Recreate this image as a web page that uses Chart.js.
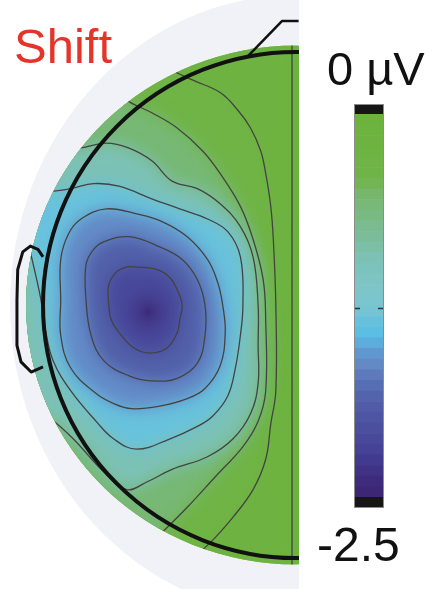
<!DOCTYPE html>
<html>
<head>
<meta charset="utf-8">
<script src="https://cdn.jsdelivr.net/npm/chart.js@4/dist/chart.umd.min.js"></script>
<style>
  html, body { margin: 0; padding: 0; background: #fff; }
  canvas { display: block; }
</style>
</head>
<body>
<canvas id="topoChart" width="435" height="589"></canvas>
<script>
// Head coordinates: origin at the centre of the head, head radius = 100.
// Isopotential lines, in µV, from the midline inwards.
const contourLevels = [-0.1, -0.25, -0.45, -0.7, -1.2, -1.5, -1.75, -2.0];
const contourClosed = [false, false, false, false, false, true, true, true];

const iso010 = [[-1.6, 108], [-1.6, -108]];
const iso025 = [[-51, 96], [-49, 93], [-41, 89], [-30, 84], [-23, 77], [-18, 70], [-14, 61], [-12, 52], [-10, 39],
  [-9, 26], [-8, 0], [-8, -34], [-10, -47], [-12, -61], [-17, -73], [-25, -84], [-32, -92], [-38, -98], [-41, -102]];
const iso045 = [[-69, 84], [-67, 81], [-57, 76], [-47, 70], [-37, 61], [-30, 52], [-22, 39], [-17, 26], [-13, 10],
  [-12, -6], [-12, -34], [-15, -46], [-21, -56], [-32, -68], [-43, -80], [-55, -92], [-59, -96]];
const iso070 = [[-89, 63], [-86, 62], [-75, 64], [-66, 62], [-57, 57], [-49, 49], [-39, 46], [-30, 40], [-22, 31],
  [-17, 19], [-15, 0], [-15, -16], [-15, -31], [-18, -43], [-25, -53], [-35, -60], [-49, -65], [-59, -70],
  [-67, -73], [-76, -66], [-88, -53], [-97, -45], [-100, -44]];
const iso120 = [[-99, 46], [-97, 45], [-89, 46], [-80, 48], [-70, 47], [-57, 42], [-46, 38], [-35, 34], [-27, 29],
  [-22, 19], [-21, 0], [-22, -12], [-24, -25], [-27, -36], [-33, -44], [-39, -48], [-50, -53], [-63, -57],
  [-72, -53], [-79, -46], [-89, -34], [-96, -22], [-99, -10], [-101, 3], [-105, 21], [-107, 30]];
const iso150 = [[-93, 2], [-93, 18], [-90, 28], [-85, 34], [-75, 38], [-63, 36], [-53, 33], [-43, 27], [-35, 18],
  [-31, 9], [-29, 0], [-28, -11], [-30, -24], [-36, -33], [-43, -37], [-54, -40], [-65, -41], [-72, -39],
  [-79, -35], [-89, -25], [-93, -12]];
const iso175 = [[-83, 2], [-83, 16], [-80, 22], [-76, 25], [-66, 27], [-54, 23], [-45, 18], [-39, 10], [-36, 0],
  [-36, -12], [-39, -23], [-47, -29], [-57, -30], [-66, -28], [-76, -22], [-81, -12]];
const iso200 = [[-74, 0], [-74, 8], [-71, 13], [-67, 15], [-63, 15], [-55, 14], [-50, 11], [-47, 6], [-45, 0],
  [-46, -6], [-47, -11], [-51, -17], [-58, -19], [-64, -17], [-69, -12], [-73, -6]];

const minPoint = { x: -58.5, y: -2.8, value: -2.42 };

// colour scale (0 ... -2.5 µV)
const cbValues = [0, -0.44, -0.47, -0.61, -0.75, -0.9, -1.02, -1.18, -1.3, -1.38, -1.45, -1.54, -1.64, -1.73,
  -1.83, -1.95, -2.07, -2.19, -2.28, -2.38, -2.5];
const cbColors = ['#6cb33d', '#70b447', '#75b664', '#78b97a', '#7abc93', '#7cc0ad', '#7dc3bf', '#7dc6cb',
  '#73c4d4', '#62c0e2', '#5abce6', '#5e9bd1', '#6488c5', '#5b74b8', '#5465ad', '#4f58a3', '#4a4d9d',
  '#464397', '#41378c', '#3e2c7e', '#3b2572'];
const cbTickValues = [0, -2.5];
const cbTickLabels = ['0 µV', '-2.5'];
const cbMidTick = -1.25;
const titleText = 'Shift';

// head drawing
const earOutline = [[-100, 19], [-102, 22], [-105, 23.3], [-108, 21], [-110, 14], [-110.3, 2], [-110.3, -16],
  [-108.7, -22.5], [-104.7, -26.5], [-100, -24.5]];
const noseOutline = [[-19.4, 98], [-5.5, 112.3], [1, 112.3]];

const contours = [iso010, iso025, iso045, iso070, iso120, iso150, iso175, iso200];

// layout
const mapRx = 106.7, mapRy = 102.5;
const haloRx = 113, haloRy = 122.5;
const mapCutX = 1.2;
const cbLeft = 355, cbWidth = 28, cbCap = 9, cbSteps = 36;
const fontFamily = '"Liberation Sans", Arial, Helvetica, sans-serif';

function hexRgb(h) {
  const n = parseInt(h.slice(1), 16);
  return [(n >> 16) & 255, (n >> 8) & 255, n & 255];
}

function colorAt(v, alpha = 1) {
  let i = 0;
  while (i < cbValues.length - 2 && v < cbValues[i + 1]) i++;
  const a = hexRgb(cbColors[i]), b = hexRgb(cbColors[i + 1]);
  let t = (cbValues[i] - v) / (cbValues[i] - cbValues[i + 1]);
  t = Math.max(0, Math.min(1, t));
  const c = a.map((c0, k) => Math.round(c0 + (b[k] - c0) * t));
  return `rgba(${c[0]},${c[1]},${c[2]},${alpha})`;
}

function tracePath(ctx, chart, idx, cx, cy, R) {
  const meta = chart.getDatasetMeta(idx);
  const line = meta.dataset;
  line.updateControlPoints(chart.chartArea, 'x');
  ctx.beginPath();
  line.path(ctx);
  if (contourClosed[idx]) {
    ctx.closePath();
    return;
  }
  const pts = meta.data;
  const first = pts[0], last = pts[pts.length - 1];
  const norm = a => (a + 2 * Math.PI) % (2 * Math.PI);
  const aFirst = norm(Math.atan2(first.y - cy, first.x - cx));
  const aLast = norm(Math.atan2(last.y - cy, last.x - cx));
  ctx.lineTo(cx + R * Math.cos(aLast), cy + R * Math.sin(aLast));
  ctx.arc(cx, cy, R, aLast, aFirst, aFirst < aLast);
  ctx.closePath();
}

function polyline(ctx, x, y, pts) {
  ctx.beginPath();
  pts.forEach(([px, py], i) => {
    const X = x.getPixelForValue(px), Y = y.getPixelForValue(py);
    if (i === 0) ctx.moveTo(X, Y); else ctx.lineTo(X, Y);
  });
  ctx.stroke();
}

const topoPlugin = {
  id: 'topo',
  afterDatasetUpdate(chart, args) {
    if (contourClosed[args.index]) {
      args.meta.dataset._loop = true;
      args.meta.dataset._fullLoop = true;
    }
  },
  beforeDatasetsDraw(chart) {
    const { ctx, scales: { x, y } } = chart;
    const cx = x.getPixelForValue(0), cy = y.getPixelForValue(0);
    const unit = x.getPixelForValue(1) - cx;
    const cutX = x.getPixelForValue(mapCutX);

    ctx.save();
    ctx.beginPath();
    ctx.rect(0, 0, cutX, chart.height);
    ctx.clip();
    ctx.fillStyle = '#f1f1f8';
    ctx.beginPath();
    ctx.ellipse(cx, cy, haloRx * unit, haloRy * unit, 0, 0, 2 * Math.PI);
    ctx.fill();

    ctx.beginPath();
    ctx.ellipse(cx, cy, mapRx * unit, mapRy * unit, 0, 0, 2 * Math.PI);
    ctx.clip();
    ctx.fillStyle = colorAt(contourLevels[0] / 2);
    ctx.fillRect(0, 0, chart.width, chart.height);

    ctx.filter = 'blur(8px)';
    const R = 150 * unit;
    contourLevels.forEach((lv, i) => {
      const next = i + 1 < contourLevels.length ? contourLevels[i + 1] : lv - 0.25;
      tracePath(ctx, chart, i, cx, cy, R);
      ctx.fillStyle = colorAt((lv + next) / 2);
      ctx.fill();
    });
    ctx.filter = 'none';

    // minimum of the map
    const mx = x.getPixelForValue(minPoint.x), my = y.getPixelForValue(minPoint.y);
    const g = ctx.createRadialGradient(mx, my, 0, mx, my, 34);
    g.addColorStop(0, colorAt(minPoint.value));
    g.addColorStop(1, colorAt(-2.125, 0));
    ctx.fillStyle = g;
    ctx.beginPath();
    ctx.arc(mx, my, 34, 0, 2 * Math.PI);
    ctx.fill();
  },
  afterDatasetsDraw(chart) {
    const { ctx, scales: { x, y, cb } } = chart;
    ctx.restore();

    const cx = x.getPixelForValue(0), cy = y.getPixelForValue(0);
    const unit = x.getPixelForValue(1) - cx;
    const cutX = x.getPixelForValue(mapCutX);

    // head, nose and ear
    ctx.save();
    ctx.beginPath();
    ctx.rect(0, 0, cutX, chart.height);
    ctx.clip();
    ctx.strokeStyle = '#111';
    ctx.lineWidth = 4;
    ctx.beginPath();
    ctx.arc(cx, cy, 100 * unit, 0, 2 * Math.PI);
    ctx.stroke();
    ctx.lineJoin = 'round';
    ctx.lineWidth = 2.5;
    polyline(ctx, x, y, noseOutline);
    ctx.lineWidth = 3;
    polyline(ctx, x, y, earOutline);
    ctx.restore();

    // colour bar
    const top = cb.getPixelForValue(cbTickValues[0]);
    const bottom = cb.getPixelForValue(cbTickValues[1]);
    const span = cbTickValues[0] - cbTickValues[1];
    for (let k = 0; k < cbSteps; k++) {
      const v0 = cbTickValues[0] - k * span / cbSteps;
      const v1 = v0 - span / cbSteps;
      const y0 = cb.getPixelForValue(v0), y1 = cb.getPixelForValue(v1);
      ctx.fillStyle = colorAt((v0 + v1) / 2);
      ctx.fillRect(cbLeft, y0, cbWidth, y1 - y0 + 0.6);
    }
    ctx.fillStyle = '#161616';
    ctx.fillRect(cbLeft, top - cbCap, cbWidth, cbCap);
    ctx.fillRect(cbLeft, bottom, cbWidth, cbCap + 1);
    ctx.strokeStyle = '#8c8c8c';
    ctx.lineWidth = 1;
    ctx.strokeRect(cbLeft - 0.5, top - cbCap - 0.5, cbWidth + 1, bottom - top + 2 * cbCap + 2);
    const ty = cb.getPixelForValue(cbMidTick) + 3;
    ctx.strokeStyle = '#333';
    ctx.lineWidth = 1.5;
    ctx.beginPath();
    ctx.moveTo(cbLeft, ty); ctx.lineTo(cbLeft + 5, ty);
    ctx.moveTo(cbLeft + cbWidth - 5, ty); ctx.lineTo(cbLeft + cbWidth, ty);
    ctx.stroke();

    // labels
    ctx.fillStyle = '#111';
    ctx.textBaseline = 'alphabetic';
    ctx.textAlign = 'left';
    ctx.font = `47px ${fontFamily}`;
    ctx.fillText(cbTickLabels[0], 327, top - cbCap - 20);
    ctx.font = `48px ${fontFamily}`;
    ctx.fillText(cbTickLabels[1], 317, bottom + cbCap + 55);

    ctx.fillStyle = '#e5352a';
    ctx.font = `49px ${fontFamily}`;
    ctx.fillText(titleText, 14, 63);
  }
};

new Chart(document.getElementById('topoChart'), {
  type: 'scatter',
  data: {
    datasets: contours.map((pts, i) => ({
      label: `${contourLevels[i]} µV`,
      data: pts.map(([px, py]) => ({ x: px, y: py })),
      showLine: true,
      tension: 0.4,
      borderColor: '#434343',
      borderWidth: 1.3,
      pointRadius: 0,
      pointHoverRadius: 0,
      fill: false
    }))
  },
  options: {
    responsive: false,
    animation: false,
    devicePixelRatio: 1,
    events: [],
    layout: { padding: 0 },
    scales: {
      x: { type: 'linear', min: -117, max: 54.9, display: false },
      y: { type: 'linear', min: -112.3, max: 120.6, display: false },
      cb: { type: 'linear', axis: 'y', position: 'right', min: -3.1005, max: 0.7441, display: false }
    },
    plugins: {
      legend: { display: false },
      tooltip: { enabled: false }
    }
  },
  plugins: [topoPlugin]
});
</script>
</body>
</html>
